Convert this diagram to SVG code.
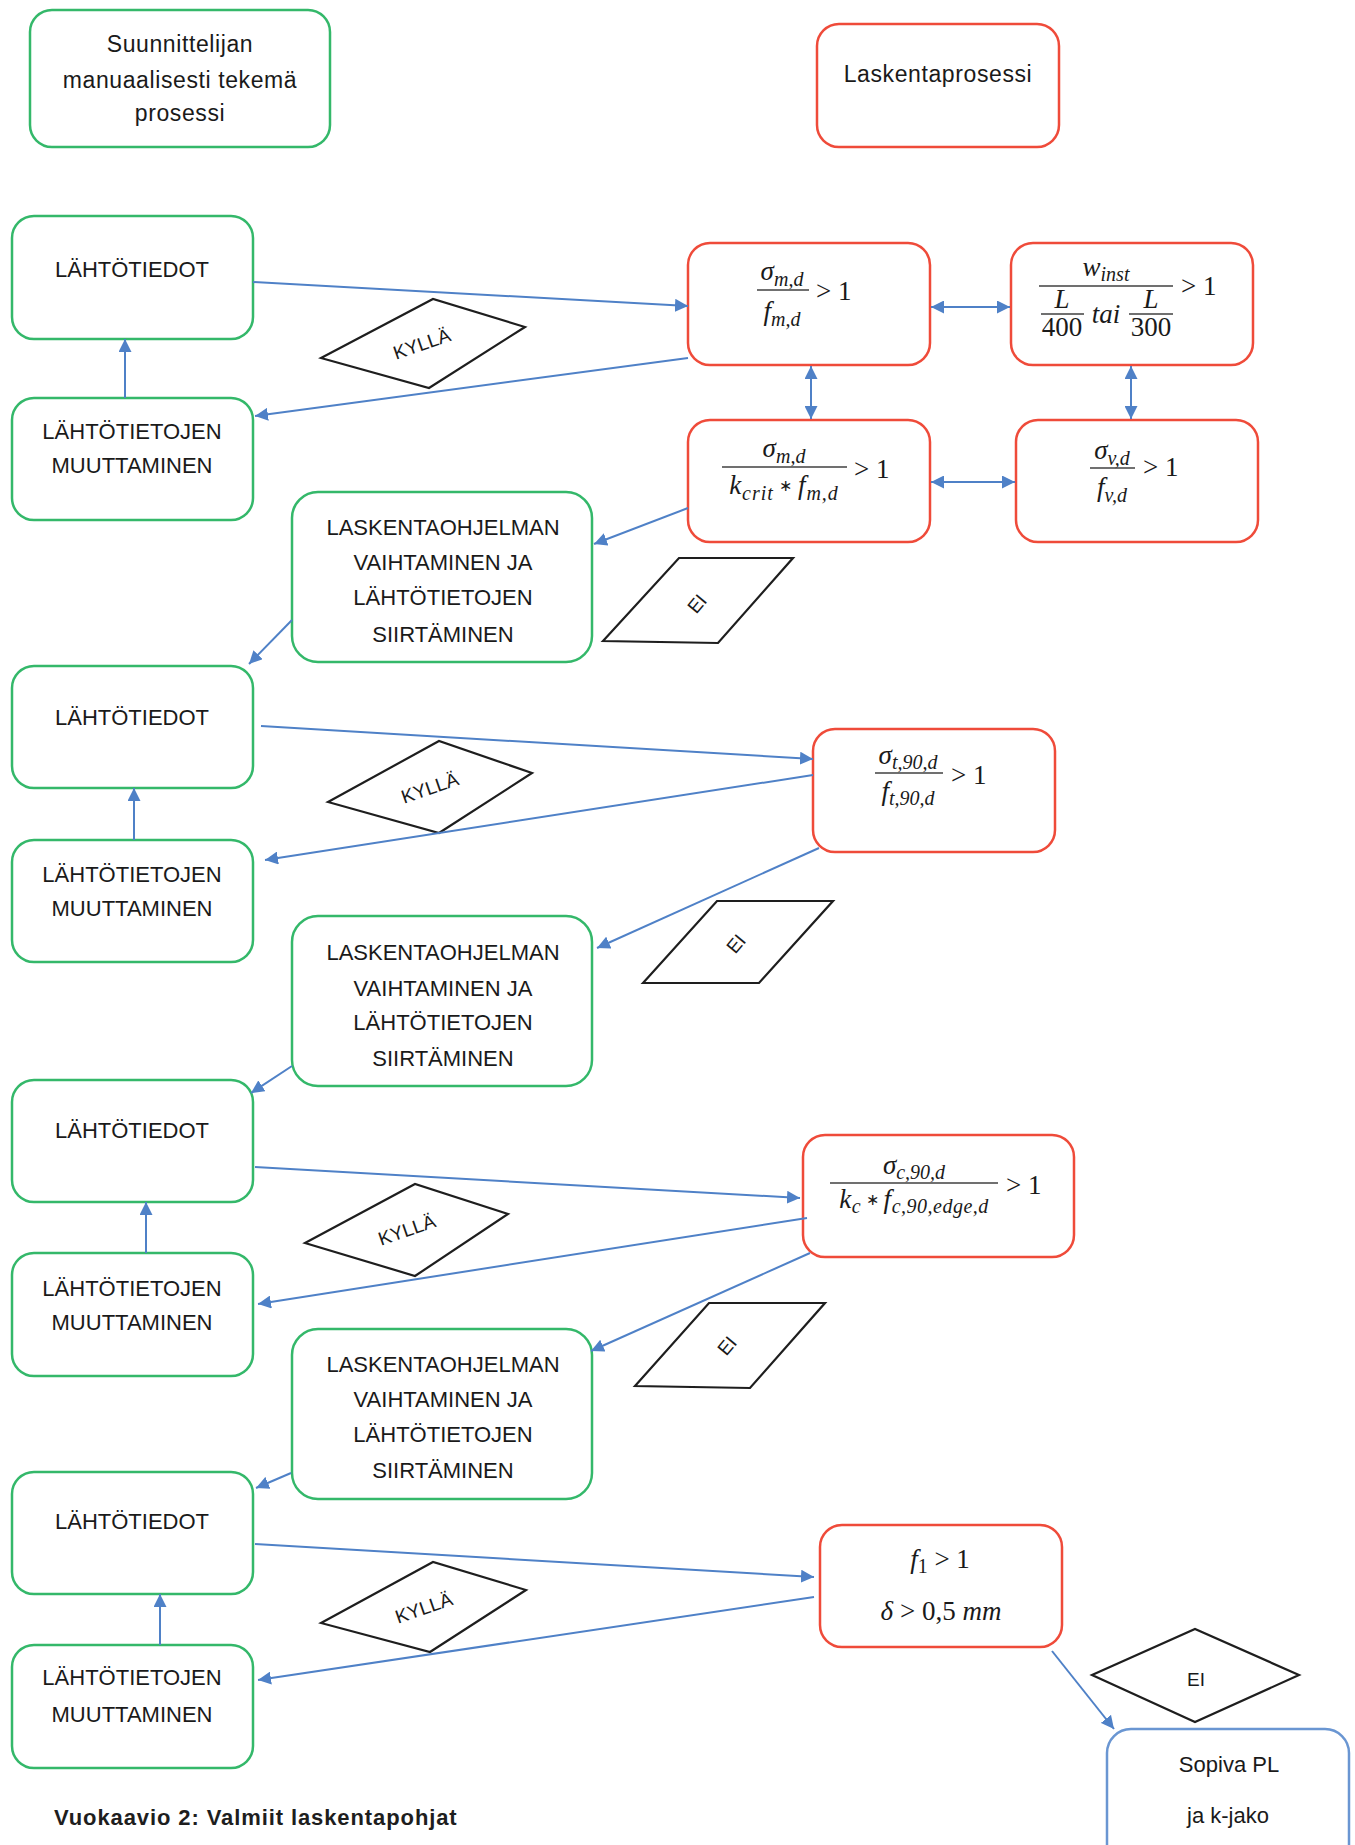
<svg xmlns="http://www.w3.org/2000/svg" width="1355" height="1845" viewBox="0 0 1355 1845">
<defs>
<marker id="ah" viewBox="0 0 10 10" refX="10" refY="5" markerWidth="13" markerHeight="13" markerUnits="userSpaceOnUse" orient="auto-start-reverse"><path d="M0,0 L10,5 L0,10 z" fill="#4f81c7"/></marker>
<style>
.g{fill:#fff;stroke:#34b86a;stroke-width:2.5}
.r{fill:#fff;stroke:#ef4b3a;stroke-width:2.5}
.b{fill:#fff;stroke:#6a96d2;stroke-width:2.5}
.p{fill:#fff;stroke:#1e1e1e;stroke-width:2.2}
.t{font-family:"Liberation Sans",Arial,sans-serif;font-size:22px;fill:#1a1a1a;text-anchor:middle}
.s{font-family:"Liberation Sans",Arial,sans-serif;font-size:23px;fill:#1a1a1a;text-anchor:middle;letter-spacing:0.6px}
.k{font-family:"Liberation Sans",Arial,sans-serif;font-size:19px;fill:#1a1a1a;text-anchor:middle}
.m{font-family:"Liberation Serif","Times New Roman",serif;font-style:italic;font-size:27px;fill:#1a1a1a}
.u{font-style:normal}
.sb{font-size:20px}
.st{font-size:16px;font-style:normal}
.fl{stroke:#404040;stroke-width:1.6}
.c{fill:none;stroke:#4f81c7;stroke-width:2;marker-end:url(#ah)}
.c2{fill:none;stroke:#4f81c7;stroke-width:2;marker-end:url(#ah);marker-start:url(#ah)}
</style>
</defs>
<rect width="1355" height="1845" fill="#fff"/>

<g id="legend-manual"><rect class="g" x="30" y="10" width="300" height="137" rx="22"/>
<text class="s" x="180" y="52">Suunnittelijan</text><text class="s" x="180" y="88">manuaalisesti tekemä</text><text class="s" x="180" y="121">prosessi</text></g>
<g id="legend-calc"><rect class="r" x="817" y="24" width="242" height="123" rx="22"/>
<text class="s" x="938" y="82">Laskentaprosessi</text></g>

<!-- Row A -->
<g id="lahto-a"><rect class="g" x="12" y="216" width="241" height="123" rx="22"/><text class="t" x="132" y="277">LÄHTÖTIEDOT</text></g>
<g id="muutt-a"><rect class="g" x="12" y="398" width="241" height="122" rx="22"/><text class="t" x="132" y="439">LÄHTÖTIETOJEN</text><text class="t" x="132" y="473">MUUTTAMINEN</text></g>
<g id="lask-a"><rect class="g" x="292" y="492" width="300" height="170" rx="26"/><text class="t" x="443" y="535">LASKENTAOHJELMAN</text><text class="t" x="443" y="570">VAIHTAMINEN JA</text><text class="t" x="443" y="605">LÄHTÖTIETOJEN</text><text class="t" x="443" y="642">SIIRTÄMINEN</text></g>

<g id="f-bend"><rect class="r" x="688" y="243" width="242" height="122" rx="22"/>
<text class="m" x="782" y="280" text-anchor="middle">σ<tspan class="sb" dy="6">m,d</tspan></text>
<line class="fl" x1="757" y1="290" x2="809" y2="290"/>
<text class="m" x="782" y="320" text-anchor="middle">f<tspan class="sb" dy="6">m,d</tspan></text>
<text class="m u" x="816" y="300">&gt; 1</text></g>

<g id="f-winst"><rect class="r" x="1011" y="243" width="242" height="122" rx="22"/>
<text class="m" x="1106" y="276" text-anchor="middle">w<tspan class="sb" dy="5">inst</tspan></text>
<line class="fl" x1="1039" y1="286" x2="1173" y2="286"/>
<text class="m" x="1062" y="308" text-anchor="middle" font-size="22">L</text>
<line class="fl" x1="1041" y1="314" x2="1084" y2="314"/>
<text class="m u" x="1062" y="336" text-anchor="middle" font-size="24">400</text>
<text class="m" x="1106" y="323" text-anchor="middle" font-size="24">tai</text>
<text class="m" x="1151" y="308" text-anchor="middle" font-size="22">L</text>
<line class="fl" x1="1129" y1="314" x2="1173" y2="314"/>
<text class="m u" x="1151" y="336" text-anchor="middle" font-size="24">300</text>
<text class="m u" x="1181" y="295">&gt; 1</text></g>

<g id="f-kcrit"><rect class="r" x="688" y="420" width="242" height="122" rx="22"/>
<text class="m" x="784" y="457" text-anchor="middle">σ<tspan class="sb" dy="6">m,d</tspan></text>
<line class="fl" x1="722" y1="467" x2="847" y2="467"/>
<text class="m" x="784" y="494" text-anchor="middle" letter-spacing="1">k<tspan class="sb" dy="6">crit</tspan><tspan class="st" dy="-9"> ∗ </tspan><tspan dy="3">f</tspan><tspan class="sb" dy="6">m,d</tspan></text>
<text class="m u" x="854" y="478">&gt; 1</text></g>

<g id="f-shear"><rect class="r" x="1016" y="420" width="242" height="122" rx="22"/>
<text class="m" x="1112" y="459" text-anchor="middle">σ<tspan class="sb" dy="6">v,d</tspan></text>
<line class="fl" x1="1090" y1="468" x2="1135" y2="468"/>
<text class="m" x="1112" y="496" text-anchor="middle">f<tspan class="sb" dy="6">v,d</tspan></text>
<text class="m u" x="1143" y="476">&gt; 1</text></g>

<g id="kylla-a"><polygon class="p" points="321,358 433,299 525,327 429,388"/><text class="k" transform="translate(424,350) rotate(-19)">KYLLÄ</text></g>
<g id="ei-a"><polygon class="p" points="603,641 679,558 793,558 718,643"/><text class="k" font-size="17" transform="translate(702,608) rotate(-50)">EI</text></g>

<!-- Row B -->
<g id="lahto-b"><rect class="g" x="12" y="666" width="241" height="122" rx="22"/><text class="t" x="132" y="725">LÄHTÖTIEDOT</text></g>
<g id="muutt-b"><rect class="g" x="12" y="840" width="241" height="122" rx="22"/><text class="t" x="132" y="882">LÄHTÖTIETOJEN</text><text class="t" x="132" y="916">MUUTTAMINEN</text></g>
<g id="lask-b"><rect class="g" x="292" y="916" width="300" height="170" rx="26"/><text class="t" x="443" y="960">LASKENTAOHJELMAN</text><text class="t" x="443" y="996">VAIHTAMINEN JA</text><text class="t" x="443" y="1030">LÄHTÖTIETOJEN</text><text class="t" x="443" y="1066">SIIRTÄMINEN</text></g>
<g id="f-t90"><rect class="r" x="813" y="729" width="242" height="123" rx="22"/>
<text class="m" x="908" y="764" text-anchor="middle">σ<tspan class="sb" dy="5">t,90,d</tspan></text>
<line class="fl" x1="875" y1="773" x2="943" y2="773"/>
<text class="m" x="908" y="800" text-anchor="middle">f<tspan class="sb" dy="5">t,90,d</tspan></text>
<text class="m u" x="951" y="784">&gt; 1</text></g>
<g id="kylla-b"><polygon class="p" points="328,802 439,741 532,773 439,833"/><text class="k" transform="translate(432,794) rotate(-19)">KYLLÄ</text></g>
<g id="ei-b"><polygon class="p" points="643,983 717,901 833,901 759,983"/><text class="k" font-size="17" transform="translate(741,948) rotate(-50)">EI</text></g>

<!-- Row C -->
<g id="lahto-c"><rect class="g" x="12" y="1080" width="241" height="122" rx="22"/><text class="t" x="132" y="1138">LÄHTÖTIEDOT</text></g>
<g id="muutt-c"><rect class="g" x="12" y="1253" width="241" height="123" rx="22"/><text class="t" x="132" y="1296">LÄHTÖTIETOJEN</text><text class="t" x="132" y="1330">MUUTTAMINEN</text></g>
<g id="lask-c"><rect class="g" x="292" y="1329" width="300" height="170" rx="26"/><text class="t" x="443" y="1372">LASKENTAOHJELMAN</text><text class="t" x="443" y="1407">VAIHTAMINEN JA</text><text class="t" x="443" y="1442">LÄHTÖTIETOJEN</text><text class="t" x="443" y="1478">SIIRTÄMINEN</text></g>
<g id="f-c90"><rect class="r" x="803" y="1135" width="271" height="122" rx="22"/>
<text class="m" x="914" y="1174" text-anchor="middle">σ<tspan class="sb" dy="5">c,90,d</tspan></text>
<line class="fl" x1="830" y1="1183" x2="998" y2="1183"/>
<text class="m" x="914" y="1208" text-anchor="middle" letter-spacing="0.5">k<tspan class="sb" dy="5">c</tspan><tspan class="st" dy="-8"> ∗ </tspan><tspan dy="3">f</tspan><tspan class="sb" dy="5">c,90,edge,d</tspan></text>
<text class="m u" x="1006" y="1194">&gt; 1</text></g>
<g id="kylla-c"><polygon class="p" points="305,1243 415,1184 508,1214 415,1276"/><text class="k" transform="translate(409,1236) rotate(-19)">KYLLÄ</text></g>
<g id="ei-c"><polygon class="p" points="635,1386 709,1303 825,1303 750,1388"/><text class="k" font-size="17" transform="translate(732,1350) rotate(-50)">EI</text></g>

<!-- Row D -->
<g id="lahto-d"><rect class="g" x="12" y="1472" width="241" height="122" rx="22"/><text class="t" x="132" y="1529">LÄHTÖTIEDOT</text></g>
<g id="muutt-d"><rect class="g" x="12" y="1645" width="241" height="123" rx="22"/><text class="t" x="132" y="1685">LÄHTÖTIETOJEN</text><text class="t" x="132" y="1722">MUUTTAMINEN</text></g>
<g id="f-freq"><rect class="r" x="820" y="1525" width="242" height="122" rx="22"/>
<text class="m" x="940" y="1568" text-anchor="middle">f<tspan class="sb u" dy="5">1</tspan><tspan class="u" dy="-5"> &gt; 1</tspan></text>
<text class="m" x="941" y="1620" text-anchor="middle">δ<tspan class="u"> &gt; 0,5 </tspan>mm</text></g>
<g id="kylla-d"><polygon class="p" points="321,1623 433,1562 526,1590 430,1652"/><text class="k" transform="translate(426,1614) rotate(-19)">KYLLÄ</text></g>
<g id="ei-d"><polygon class="p" points="1092,1675 1195,1629 1299,1675 1195,1722"/><text class="k" x="1196" y="1686">EI</text></g>
<g id="sopiva"><rect class="b" x="1107" y="1729" width="242" height="150" rx="24"/>
<text class="t" x="1229" y="1772">Sopiva PL</text><text class="t" x="1228" y="1823">ja k-jako</text></g>

<g id="connectors">
<line class="c" x1="253" y1="282" x2="688" y2="306"/>
<line class="c" x1="688" y1="358" x2="255" y2="416"/>
<line class="c" x1="125" y1="398" x2="125" y2="339"/>
<line class="c2" x1="931" y1="307" x2="1010" y2="307"/>
<line class="c2" x1="811" y1="366" x2="811" y2="419"/>
<line class="c2" x1="1131" y1="366" x2="1131" y2="419"/>
<line class="c2" x1="931" y1="482" x2="1015" y2="482"/>
<line class="c" x1="688" y1="508" x2="594" y2="544"/>
<line class="c" x1="292" y1="620" x2="249" y2="664"/>
<line class="c" x1="261" y1="726" x2="813" y2="759"/>
<line class="c" x1="813" y1="775" x2="265" y2="860"/>
<line class="c" x1="134" y1="840" x2="134" y2="788"/>
<line class="c" x1="819" y1="848" x2="597" y2="948"/>
<line class="c" x1="292" y1="1066" x2="251" y2="1093"/>
<line class="c" x1="255" y1="1167" x2="800" y2="1198"/>
<line class="c" x1="807" y1="1218" x2="258" y2="1304"/>
<line class="c" x1="146" y1="1253" x2="146" y2="1202"/>
<line class="c" x1="810" y1="1253" x2="591" y2="1351"/>
<line class="c" x1="291" y1="1473" x2="256" y2="1488"/>
<line class="c" x1="255" y1="1544" x2="814" y2="1577"/>
<line class="c" x1="814" y1="1597" x2="258" y2="1680"/>
<line class="c" x1="160" y1="1645" x2="160" y2="1594"/>
<line class="c" x1="1052" y1="1651" x2="1114" y2="1729"/>
</g>

<text x="54" y="1825" font-family="Liberation Sans, Arial, sans-serif" font-weight="bold" font-size="22" letter-spacing="0.9" fill="#1e1e1e">Vuokaavio 2: Valmiit laskentapohjat</text>
</svg>
